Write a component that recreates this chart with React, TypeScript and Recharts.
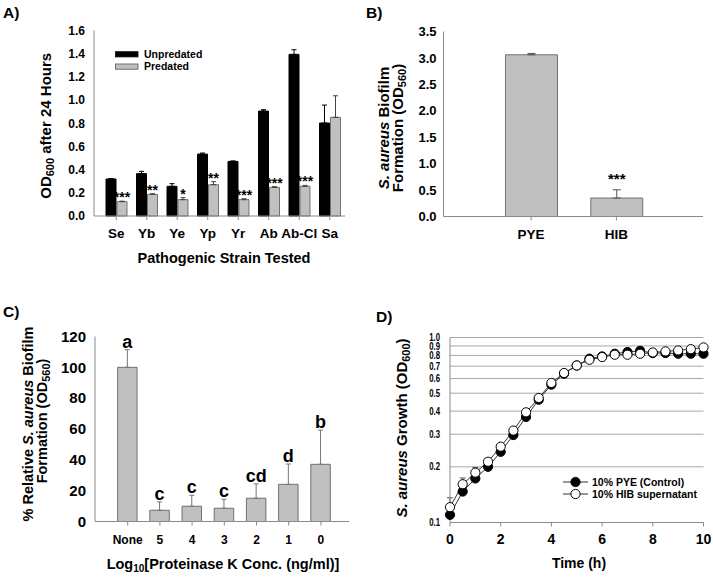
import React from 'react';
import {
  BarChart, Bar, XAxis, YAxis, ErrorBar, LabelList, LineChart, Line,
  CartesianGrid, Legend,
} from 'recharts';

const FONT = '"Liberation Sans", Arial, Helvetica, sans-serif';

// ---------- Panel A data ----------
const strainCategories = ['Se', 'Yb', 'Ye', 'Yp', 'Yr', 'Ab', 'Ab-Cl', 'Sa'];
const unpredatedValues = [0.319, 0.365, 0.256, 0.534, 0.471, 0.905, 1.394, 0.802];
const unpredatedErrors = [0.004, 0.02, 0.023, 0.009, 0.004, 0.012, 0.04, 0.155];
const predatedValues = [0.124, 0.187, 0.141, 0.27, 0.141, 0.247, 0.256, 0.851];
const predatedErrors = [0.004, 0.005, 0.017, 0.026, 0.008, 0.006, 0.008, 0.186];
const predatedSignificance = ['***', '**', '*', '**', '***', '***', '***', ''];
const panelAYTicks = [0, 0.2, 0.4, 0.6, 0.8, 1.0, 1.2, 1.4, 1.6];
const panelASeries = ['Unpredated', 'Predated'];

// ---------- Panel B data ----------
const mediumCategories = ['PYE', 'HIB'];
const biofilmValues = [3.06, 0.35];
const biofilmErrors = [0.025, 0.155];
const biofilmSignificance = ['', '***'];
const panelBYTicks = [0, 0.5, 1.0, 1.5, 2.0, 2.5, 3.0, 3.5];

// ---------- Panel C data ----------
const concCategories = ['None', '5', '4', '3', '2', '1', '0'];
const relBiofilmValues = [100, 7.3, 9.9, 8.6, 15.1, 24.1, 37.1];
const relBiofilmErrors = [11.4, 5.4, 7.1, 5.8, 9.3, 13.2, 22.2];
const relBiofilmGroups = ['a', 'c', 'c', 'c', 'cd', 'd', 'b'];
const panelCYTicks = [0, 20, 40, 60, 80, 100, 120];

// ---------- Panel D data ----------
const timeHours = [0, 0.5, 1, 1.5, 2, 2.5, 3, 3.5, 4, 4.5, 5, 5.5, 6, 6.5, 7, 7.5, 8, 8.5, 9, 9.5, 10];
const pyeGrowth = [0.110, 0.147, 0.173, 0.200, 0.241, 0.297, 0.372, 0.461, 0.556, 0.637, 0.706, 0.768, 0.790, 0.817, 0.834, 0.848, 0.824, 0.824, 0.817, 0.817, 0.817];
const hibGrowth = [0.121, 0.161, 0.186, 0.213, 0.257, 0.314, 0.394, 0.471, 0.568, 0.643, 0.706, 0.758, 0.784, 0.807, 0.807, 0.817, 0.830, 0.841, 0.851, 0.865, 0.884];
const hibGrowthErrors = [0.015, 0.013, 0.012, 0, 0, 0, 0, 0, 0, 0, 0, 0, 0, 0, 0, 0, 0, 0, 0, 0, 0];
const panelDYTicks = [0.1, 0.2, 0.3, 0.4, 0.5, 0.6, 0.7, 0.8, 0.9, 1.0];
const panelDXTicks = [0, 2, 4, 6, 8, 10];
const panelDSeries = ['10% PYE (Control)', '10% HIB supernatant'];

// ---------- table rows built from the arrays ----------
const panelAData = strainCategories.map((name, i) => ({
  name, i,
  unp: unpredatedValues[i], unpErr: [0, unpredatedErrors[i]],
  pred: predatedValues[i], predErr: [0, predatedErrors[i]],
}));
const panelBData = mediumCategories.map((name, i) => ({
  name, i, val: biofilmValues[i], err: [0, biofilmErrors[i]],
}));
const panelCData = concCategories.map((name, i) => ({
  name, i, val: relBiofilmValues[i], err: [0, relBiofilmErrors[i]],
}));
const panelDData = timeHours.map((t, i) => ({
  t, pye: pyeGrowth[i], hib: hibGrowth[i], hibErr: [0, hibGrowthErrors[i]],
}));

const FRAME = '#8a8a8a';
const GRAY = '#c0c0c0';
const BAR_STROKE = '#555';

const boldTick = (size: number) => ({ fill: '#000', fontSize: size, fontWeight: 'bold', fontFamily: FONT });

// Label placed above the error bar tip; value passed in is the row index
function aboveErrorLabel(values: number[], errors: number[], texts: string[], fontSize: number, gap: number) {
  return (props: any) => {
    const vb = props.viewBox ?? props;
    const x = vb.x ?? props.x;
    const y = vb.y ?? props.y;
    const width = vb.width ?? props.width;
    const height = vb.height ?? props.height;
    const idx = Number(props.value);
    const txt = texts[idx];
    if (!txt) return null;
    const v = values[idx];
    const errPx = v ? (errors[idx] * Math.abs(height)) / v : 0;
    return (
      <text x={x + width / 2} y={y - errPx - gap} textAnchor="middle" fontFamily={FONT}
        fontWeight="bold" fontSize={fontSize} fill="#000">{txt}</text>
    );
  };
}

const orderItems = (items: any[], order: string[]) =>
  [...items].sort((a, b) => order.indexOf(a.value) - order.indexOf(b.value));

const legendA = (props: any) => {
  const items = orderItems(props.payload || [], panelASeries);
  return (
    <svg width={100} height={28} style={{ overflow: 'visible' }}>
      {items.map((it: any, k: number) => {
        const isBlack = it.value === panelASeries[0];
        const ry = k === 0 ? 3.7 : 16;
        return (
          <g key={k}>
            <rect x={0.5} y={ry} width={22.5} height={5.2} fill={isBlack ? '#000' : GRAY}
              stroke={isBlack ? '#000' : BAR_STROKE} strokeWidth={0.8} />
            <text x={29} y={ry + 6.3} fontFamily={FONT} fontWeight="bold" fontSize={10.5} fill="#000">{it.value}</text>
          </g>
        );
      })}
    </svg>
  );
};

const legendD = (props: any) => {
  const items = orderItems(props.payload || [], panelDSeries);
  return (
    <svg width={140} height={30} style={{ overflow: 'visible' }}>
      {items.map((it: any, k: number) => {
        const cy = 8 + k * 12;
        const filled = it.value === panelDSeries[0];
        return (
          <g key={k}>
            <line x1={0} x2={25} y1={cy} y2={cy} stroke="#333" strokeWidth={1} />
            <circle cx={12.5} cy={cy} r={4.6} fill={filled ? '#000' : '#fff'} stroke="#000" strokeWidth={1} />
            <text x={29} y={cy + 4} fontFamily={FONT} fontWeight="bold" fontSize={10.5} fill="#000">{it.value}</text>
          </g>
        );
      })}
    </svg>
  );
};

function PanelA() {
  return (
    <BarChart width={360} height={290} data={panelAData}
      margin={{ top: 30.5, right: 15, left: 34, bottom: 44 }} barGap={1}>
      <XAxis dataKey="name" height={30} interval={0} padding={{ left: 7, right: 0 }}
        tick={boldTick(13.5)} tickSize={4} tickMargin={8} stroke={FRAME} />
      <XAxis xAxisId="top" dataKey="name" orientation="top" height={0} tick={false} tickLine={false}
        padding={{ left: 7, right: 0 }} stroke={FRAME} />
      <YAxis width={60} domain={[0, 1.6]} ticks={panelAYTicks} interval={0}
        tickFormatter={(v: number) => v.toFixed(1)} tick={boldTick(12)} tickLine={false}
        tickSize={4} tickMargin={5} stroke={FRAME} />
      <YAxis yAxisId="right" orientation="right" width={0} tick={false} tickLine={false}
        domain={[0, 1]} stroke={FRAME} />
      <Legend layout="vertical" verticalAlign="middle" align="center" content={legendA}
        wrapperStyle={{ position: 'absolute', left: 115, top: 48, width: 100, height: 28 }} />
      <Bar dataKey="unp" name={panelASeries[0]} fill="#000" stroke="#000" barSize={10} isAnimationActive={false}>
        <ErrorBar dataKey="unpErr" width={2.5} stroke="#000" strokeWidth={1} direction="y" />
      </Bar>
      <Bar dataKey="pred" name={panelASeries[1]} fill={GRAY} stroke={BAR_STROKE} strokeWidth={0.8} barSize={10} isAnimationActive={false}>
        <ErrorBar dataKey="predErr" width={2.5} stroke="#444" strokeWidth={1} direction="y" />
        <LabelList dataKey="i" content={aboveErrorLabel(predatedValues, predatedErrors, predatedSignificance, 14, -1)} />
      </Bar>
    </BarChart>
  );
}

function PanelB() {
  return (
    <BarChart width={353} height={290} data={panelBData}
      margin={{ top: 31.5, right: 10, left: 33.5, bottom: 43.5 }}>
      <XAxis dataKey="name" height={30} interval={0} padding={{ left: 45, right: 44 }}
        tick={boldTick(13.5)} tickSize={4} tickMargin={9} stroke={FRAME} />
      <XAxis xAxisId="top" dataKey="name" orientation="top" height={0} tick={false} tickLine={false}
        padding={{ left: 45, right: 44 }} stroke={FRAME} />
      <YAxis width={50} domain={[0, 3.5]} ticks={panelBYTicks} interval={0}
        tickFormatter={(v: number) => v.toFixed(1)} tick={boldTick(13)} tickLine={false}
        tickSize={3} tickMargin={4} stroke={FRAME} />
      <YAxis yAxisId="right" orientation="right" width={0} tick={false} tickLine={false}
        domain={[0, 1]} stroke={FRAME} />
      <Bar dataKey="val" fill={GRAY} stroke={BAR_STROKE} strokeWidth={0.8} barSize={52} isAnimationActive={false}>
        <ErrorBar dataKey="err" width={4} stroke="#555" strokeWidth={1} direction="y" />
        <LabelList dataKey="i" content={aboveErrorLabel(biofilmValues, biofilmErrors, biofilmSignificance, 15, 6)} />
      </Bar>
    </BarChart>
  );
}

function PanelC() {
  return (
    <BarChart width={360} height={288} data={panelCData}
      margin={{ top: 46.5, right: 11, left: 35, bottom: 26.5 }}>
      <XAxis dataKey="name" height={30} interval={0} padding={{ left: 16.6, right: 12 }}
        tick={boldTick(12)} tickSize={4} tickMargin={9.5} stroke={FRAME} />
      <XAxis xAxisId="top" dataKey="name" orientation="top" height={0} tick={false} tickLine={false}
        padding={{ left: 16.6, right: 12 }} stroke={FRAME} />
      <YAxis width={60} domain={[0, 120]} ticks={panelCYTicks} interval={0}
        tick={boldTick(15)} tickLine={false} tickSize={4} tickMargin={5} stroke={FRAME} />
      <YAxis yAxisId="right" orientation="right" width={0} tick={false} tickLine={false}
        domain={[0, 1]} stroke={FRAME} />
      <Bar dataKey="val" fill={GRAY} stroke={BAR_STROKE} strokeWidth={0.8} barSize={19.5} isAnimationActive={false}>
        <ErrorBar dataKey="err" width={2.5} stroke="#777" strokeWidth={1} direction="y" />
        <LabelList dataKey="i" content={aboveErrorLabel(relBiofilmValues, relBiofilmErrors, relBiofilmGroups, 18, 2)} />
      </Bar>
    </BarChart>
  );
}

const squeezedYTick = (props: any) => {
  const { x, y, payload } = props;
  return (
    <text transform={`translate(${x},${y}) scale(0.78,1)`} dy="0.355em" textAnchor="end"
      fontFamily={FONT} fontWeight="bold" fontSize={10} fill="#000">
      {Number(payload.value).toFixed(1)}
    </text>
  );
};

function PanelD() {
  return (
    <LineChart width={353} height={288} data={panelDData}
      margin={{ top: 47.5, right: 9.5, left: 40, bottom: 25.5 }}>
      <CartesianGrid vertical={false} stroke="#a8a8a8" strokeWidth={1} />
      <XAxis dataKey="t" type="number" domain={[0, 10]} ticks={panelDXTicks} interval={0}
        height={30} tick={boldTick(14)} tickSize={4} tickMargin={8} stroke={FRAME} />
      <YAxis scale="log" domain={[0.1, 1]} ticks={panelDYTicks} interval={0} allowDataOverflow
        width={50} tick={squeezedYTick} tickLine={false} tickSize={4} tickMargin={6} stroke={FRAME} />
      <Legend layout="vertical" verticalAlign="middle" align="center" content={legendD}
        wrapperStyle={{ position: 'absolute', left: 203, top: 184, width: 140, height: 30 }} />
      <Line dataKey="pye" name={panelDSeries[0]} stroke="#333" strokeWidth={1}
        dot={{ r: 4.6, fill: '#000', stroke: '#000', strokeWidth: 1 }} isAnimationActive={false} />
      <Line dataKey="hib" name={panelDSeries[1]} stroke="#333" strokeWidth={1}
        dot={{ r: 4.6, fill: '#fff', stroke: '#000', strokeWidth: 1 }} isAnimationActive={false}>
        <ErrorBar dataKey="hibErr" width={3} stroke="#555" strokeWidth={1} direction="y" />
      </Line>
    </LineChart>
  );
}

const T = { fontFamily: FONT, fontWeight: 'bold' as const, fill: '#000' };

export default function App() {
  return (
    <div style={{ position: 'absolute', left: 0, top: 0, width: 713, height: 578, background: '#fff', overflow: 'hidden' }}>
      <div style={{ position: 'absolute', left: 0, top: 0 }}><PanelA /></div>
      <div style={{ position: 'absolute', left: 360, top: 0 }}><PanelB /></div>
      <div style={{ position: 'absolute', left: 0, top: 290 }}><PanelC /></div>
      <div style={{ position: 'absolute', left: 360, top: 290 }}><PanelD /></div>
      <svg width={713} height={578} style={{ position: 'absolute', left: 0, top: 0, pointerEvents: 'none' }}>
        {/* panel letters */}
        <text x={3} y={18.3} fontSize={15.5} {...T}>A)</text>
        <text x={366} y={18.3} fontSize={15.5} {...T}>B)</text>
        <text x={3} y={316.7} fontSize={15.5} {...T}>C)</text>
        <text x={376} y={321.7} fontSize={15.5} {...T}>D)</text>

        {/* Panel A titles */}
        <text transform="translate(51,125.8) rotate(-90)" textAnchor="middle" fontSize={15} {...T}>
          OD<tspan fontSize={11} dy={3}>600</tspan><tspan dy={-3}> after 24 Hours</tspan>
        </text>
        <text x={224} y={263} textAnchor="middle" fontSize={14.5} {...T}>Pathogenic Strain Tested</text>

        {/* Panel B titles */}
        <text transform="translate(389,128) rotate(-90)" textAnchor="middle" fontSize={15} {...T}>
          <tspan fontStyle="italic">S. aureus</tspan> Biofilm
        </text>
        <text transform="translate(403,128) rotate(-90)" textAnchor="middle" fontSize={15} {...T}>
          Formation (OD<tspan fontSize={11} dy={3}>560</tspan><tspan dy={-3}>)</tspan>
        </text>

        {/* Panel C titles */}
        <text transform="translate(33,424) rotate(-90)" textAnchor="middle" fontSize={14.5} {...T}>
          % Relative <tspan fontStyle="italic">S. aureus</tspan> Biofilm
        </text>
        <text transform="translate(47,421) rotate(-90)" textAnchor="middle" fontSize={14.5} {...T}>
          Formation (OD<tspan fontSize={11} dy={3}>560</tspan><tspan dy={-3}>)</tspan>
        </text>
        <text x={223} y={569} textAnchor="middle" fontSize={14.5} {...T}>
          Log<tspan fontSize={10} dy={3}>10</tspan><tspan dy={-3}>[Proteinase K Conc. (ng/ml)]</tspan>
        </text>

        {/* Panel D titles */}
        <text transform="translate(407,428) rotate(-90)" textAnchor="middle" fontSize={15} {...T}>
          <tspan fontStyle="italic">S. aureus</tspan> Growth (OD<tspan fontSize={11} dy={3}>600</tspan><tspan dy={-3}>)</tspan>
        </text>
        <text x={579} y={568} textAnchor="middle" fontSize={14} {...T}>Time (h)</text>
      </svg>
    </div>
  );
}
